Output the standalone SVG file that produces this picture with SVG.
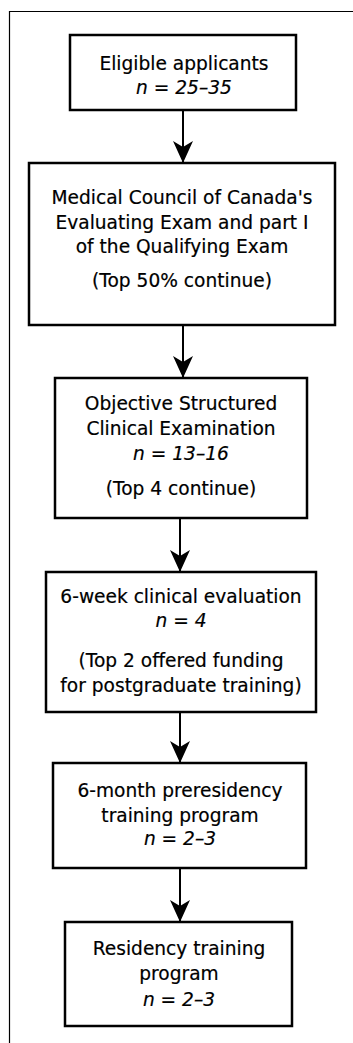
<svg xmlns="http://www.w3.org/2000/svg" width="353" height="1043" viewBox="0 0 353 1043">
<style>
.box{fill:#fff;stroke:#000;stroke-width:2.5}
.t{font-family:"DejaVu Sans",sans-serif;font-size:18.6px;fill:#000;stroke:#000;stroke-width:0.2;text-anchor:middle}
.i{font-style:italic}
.c{stroke:#000;stroke-width:2;fill:none}
.frame{stroke:#000;stroke-width:1.2;fill:none}
</style>
<defs>
<marker id="ah" viewBox="0 0 22 20" refX="22" refY="10" markerWidth="22" markerHeight="20" markerUnits="userSpaceOnUse" orient="auto">
<path d="M0,0 L22,10 L0,20 L6,10 Z" fill="#000"/>
</marker>
</defs>
<rect width="353" height="1043" fill="#fff"/>
<path class="frame" d="M9.5,1043 V11.5 H353"/>
<g id="connectors">
<line class="c" x1="183" y1="110" x2="183" y2="163" marker-end="url(#ah)"/>
<line class="c" x1="183" y1="325" x2="183" y2="378" marker-end="url(#ah)"/>
<line class="c" x1="180" y1="518" x2="180" y2="572" marker-end="url(#ah)"/>
<line class="c" x1="180" y1="712" x2="180" y2="763" marker-end="url(#ah)"/>
<line class="c" x1="180" y1="868" x2="180" y2="922" marker-end="url(#ah)"/>
</g>
<g id="n1">
<rect class="box" x="70" y="35" width="226" height="75"/>
<text class="t" x="184" y="70">Eligible applicants</text>
<text class="t i" x="184" y="94">n = 25–35</text>
</g>
<g id="n2">
<rect class="box" x="29" y="163" width="306" height="162"/>
<text class="t" x="182" y="204">Medical Council of Canada's</text>
<text class="t" x="182" y="229">Evaluating Exam and part I</text>
<text class="t" x="182" y="253">of the Qualifying Exam</text>
<text class="t" x="182" y="287">(Top 50% continue)</text>
</g>
<g id="n3">
<rect class="box" x="55" y="378" width="252" height="140"/>
<text class="t" x="181" y="410">Objective Structured</text>
<text class="t" x="181" y="435">Clinical Examination</text>
<text class="t i" x="181" y="460">n = 13–16</text>
<text class="t" x="181" y="495">(Top 4 continue)</text>
</g>
<g id="n4">
<rect class="box" x="46" y="572" width="270" height="140"/>
<text class="t" x="181" y="603">6-week clinical evaluation</text>
<text class="t i" x="181" y="627">n = 4</text>
<text class="t" x="181" y="667">(Top 2 offered funding</text>
<text class="t" x="181" y="692">for postgraduate training)</text>
</g>
<g id="n5">
<rect class="box" x="53" y="763" width="253" height="105"/>
<text class="t" x="180" y="797">6-month preresidency</text>
<text class="t" x="180" y="822">training program</text>
<text class="t i" x="180" y="845">n = 2–3</text>
</g>
<g id="n6">
<rect class="box" x="65" y="922" width="227" height="104"/>
<text class="t" x="179" y="955">Residency training</text>
<text class="t" x="179" y="980">program</text>
<text class="t i" x="179" y="1006">n = 2–3</text>
</g>
</svg>
